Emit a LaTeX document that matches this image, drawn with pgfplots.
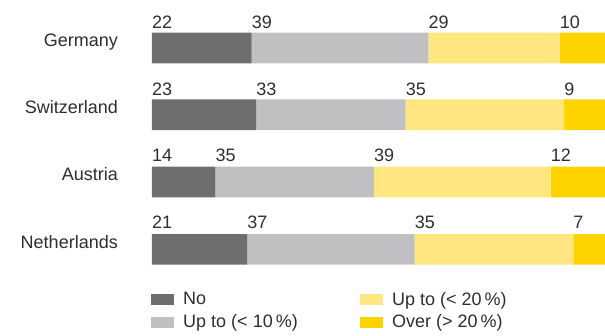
\documentclass[border=0pt]{standalone}
\usepackage{fontspec}
\setmainfont{Liberation Sans}
\usepackage{pgfplots}
\usepackage{pgfplotstable}
\pgfplotsset{compat=1.18}
\definecolor{cNo}{HTML}{6E6E71}
\definecolor{cTen}{HTML}{C0C0C2}
\definecolor{cTwenty}{HTML}{FFE680}
\definecolor{cOver}{HTML}{FFD300}
\definecolor{txt}{HTML}{2E2E2E}
\pgfplotstableread{
x y label
0 22.5 22
22 22.5 39
61 22.5 29
90 22.5 10
0 89 23
23 89 33
56 89 35
91 89 9
0 155 14
14 155 35
49 155 39
88 155 12
0 222.5 21
21 222.5 37
58 222.5 35
93 222.5 7
}\labeltable
\pgfplotsset{base/.style={
  at={(152pt,0pt)}, anchor=south west,
  scale only axis, width=453pt, height=335pt,
  xmin=0, xmax=100, ymin=0, ymax=335, y dir=reverse,
  enlargelimits=false, clip=false}}
\begin{document}
\begin{tikzpicture}[font=\fontsize{18}{21.6}\selectfont, text=txt]
\useasboundingbox (0pt,0pt) rectangle (605pt,335pt);
\begin{axis}[base,
  xbar stacked, bar width=30.6pt,
  axis line style={draw=none}, major tick length=0pt,
  xtick=\empty,
  ytick={48,114.7,182,249.3},
  yticklabels={Germany,Switzerland,Austria,Netherlands},
  yticklabel style={anchor=base east, inner sep=0pt, xshift=-34pt, yshift=1.3pt, text=txt},
  legend columns=2,
  legend image code/.code={\fill[#1] (0pt,-5pt) rectangle (22pt,5pt);},
  legend style={at={(axis cs:-0.3,292)}, anchor=north west, draw=none, fill=none,
    inner sep=0pt, nodes={inner sep=0pt, text=txt}, row sep=8pt,
    /tikz/every odd column/.append style={column sep=10pt},
    /tikz/every even column/.append style={column sep=62pt}},
  legend cell align=left]
\addplot[fill=cNo, draw=none, forget plot] coordinates {(22,48) (23,114.7) (14,182) (21,249.3)};
\addplot[fill=cTen, draw=none, forget plot] coordinates {(39,48) (33,114.7) (35,182) (37,249.3)};
\addplot[fill=cTwenty, draw=none, forget plot] coordinates {(29,48) (35,114.7) (39,182) (35,249.3)};
\addplot[fill=cOver, draw=none, forget plot] coordinates {(10,48) (9,114.7) (12,182) (7,249.3)};
\addlegendimage{cNo}
\addlegendentry{No}
\addlegendimage{cTwenty}
\addlegendentry{Up to (< 20\,\%)}
\addlegendimage{cTen}
\addlegendentry{Up to (< 10\,\%)}
\addlegendimage{cOver}
\addlegendentry{Over (> 20\,\%)}
\end{axis}
\begin{axis}[base, hide axis]
\addplot[draw=none, mark=none, nodes near coords, point meta=explicit symbolic,
  every node near coord/.append style={anchor=west, inner sep=0pt, text=txt}]
  table[x=x, y=y, meta=label] {\labeltable};
\end{axis}
\end{tikzpicture}
\end{document}
